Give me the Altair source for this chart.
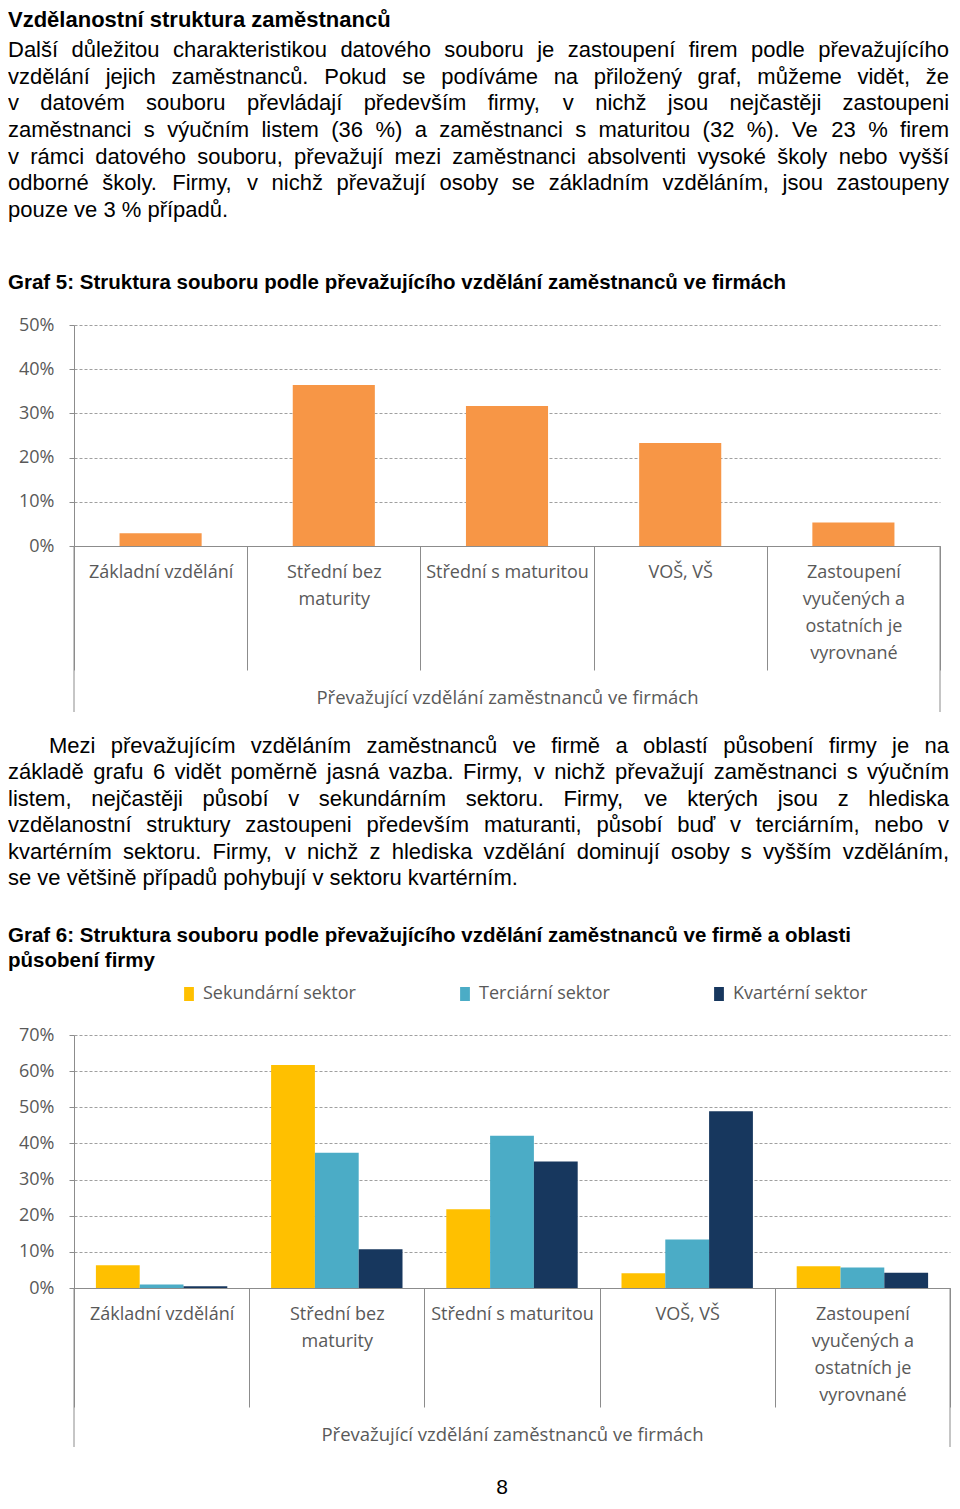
import altair as alt
import pandas as pd

# ---------------- text content ----------------
heading = "Vzdělanostní struktura zaměstnanců"
paragraph1 = [
    "Další důležitou charakteristikou datového souboru je zastoupení firem podle převažujícího",
    "vzdělání jejich zaměstnanců. Pokud se podíváme na přiložený graf, můžeme vidět, že",
    "v datovém souboru převládají především firmy, v nichž jsou nejčastěji zastoupeni",
    "zaměstnanci s výučním listem (36 %) a zaměstnanci s maturitou (32 %). Ve 23 % firem",
    "v rámci datového souboru, převažují mezi zaměstnanci absolventi vysoké školy nebo vyšší",
    "odborné školy. Firmy, v nichž převažují osoby se základním vzděláním, jsou zastoupeny",
    "pouze ve 3 % případů.",
]
graf5_title = "Graf 5: Struktura souboru podle převažujícího vzdělání zaměstnanců ve firmách"
paragraph2 = [
    "Mezi převažujícím vzděláním zaměstnanců ve firmě a oblastí působení firmy je na",
    "základě grafu 6 vidět poměrně jasná vazba. Firmy, v nichž převažují zaměstnanci s výučním",
    "listem, nejčastěji působí v sekundárním sektoru. Firmy, ve kterých jsou z hlediska",
    "vzdělanostní struktury zastoupeni především maturanti, působí buď v terciárním, nebo v",
    "kvartérním sektoru. Firmy, v nichž z hlediska vzdělání dominují osoby s vyšším vzděláním,",
    "se ve většině případů pohybují v sektoru kvartérním.",
]
graf6_title = [
    "Graf 6: Struktura souboru podle převažujícího vzdělání zaměstnanců ve firmě a oblasti",
    "působení firmy",
]
page_number = "8"

# ---------------- chart data ----------------
categories = [
    "Základní vzdělání",
    "Střední bez|maturity",
    "Střední s maturitou",
    "VOŠ, VŠ",
    "Zastoupení|vyučených a|ostatních je|vyrovnané",
]
x_title = "Převažující vzdělání zaměstnanců ve firmách"
total_share = [0.029, 0.364, 0.317, 0.233, 0.053]
y5_ticks = [0, 0.1, 0.2, 0.3, 0.4, 0.5]

sectors = ["Sekundární sektor", "Terciární sektor", "Kvartérní sektor"]
secondary = [0.063, 0.617, 0.218, 0.041, 0.060]
tertiary = [0.010, 0.374, 0.421, 0.134, 0.057]
quaternary = [0.005, 0.107, 0.350, 0.489, 0.042]
y6_ticks = [0, 0.1, 0.2, 0.3, 0.4, 0.5, 0.6, 0.7]

# ---------------- styles ----------------
BODY_FONT = "Liberation Sans"
CHART_FONT = "Open Sans"
LABEL = "#595959"
LINE = "#8c8c8c"
GRID = "#a0a0a0"
ORANGE = "#F79646"
SECTOR_COLORS = ["#FFC000", "#4BACC6", "#17375E"]
ORIGIN = 66          # left extent (axis / text) before the plot origin
TEXT_X = -66
BODY_SIZE = 22
TITLE_SIZE = 20.5
CHART_SIZE = 18
TEXT_W = 866
W5, H5 = 866, 221
W6, H6 = 876, 253

# page-x -> local-x mapping for justified text (plot origin sits at page x = 74)
PAGE_LEFT, PAGE_RIGHT, PAGE_INDENT = 8, 949, 49
page_x = alt.Scale(domain=[0, 960], range=[-74, 886])

# Liberation Sans (Arial-metric) advance widths, 1/1000 em
_W = {" ": 278, ",": 278, ".": 278, "(": 333, ")": 333, "%": 889, ":": 278, "-": 333}
for ch in "0123456789":
    _W[ch] = 556
for ch, w in zip("abcdefghijklmnopqrstuvwxyz",
                 [556, 556, 500, 556, 556, 278, 556, 556, 222, 222, 500, 222, 833,
                  556, 556, 556, 556, 333, 500, 278, 556, 500, 722, 500, 500, 500]):
    _W[ch] = w
for ch, w in zip("ABCDEFGHIJKLMNOPQRSTUVWXYZ",
                 [667, 667, 722, 722, 667, 611, 778, 722, 278, 500, 667, 556, 833,
                  722, 778, 667, 778, 722, 667, 611, 722, 667, 944, 667, 667, 611]):
    _W[ch] = w
_W.update({"á": 556, "é": 556, "í": 278, "ó": 556, "ú": 556, "ý": 500, "ů": 556,
           "č": 500, "ď": 615, "ě": 556, "ň": 556, "ř": 333, "š": 500, "ť": 357,
           "ž": 500, "Š": 667, "Ž": 611, "Č": 722, "Ř": 722})


def word_width(word, size):
    return sum(_W.get(ch, 556) for ch in word) * size / 1000.0


def justified_words(lines, size, indent_first=False):
    rows = []
    for r, line in enumerate(lines):
        words = line.split(" ")
        left = PAGE_INDENT if (indent_first and r == 0) else PAGE_LEFT
        widths = [word_width(w, size) for w in words]
        last = r == len(lines) - 1
        if last or len(words) < 2:
            gap = word_width(" ", size)
        else:
            gap = (PAGE_RIGHT - left - sum(widths)) / (len(words) - 1)
        x = left
        for w, wd in zip(words, widths):
            rows.append({"row": r, "word": w, "px": x})
            x += wd + gap
    return pd.DataFrame(rows)


def paragraph_layer(lines, y0, y1, indent_first=False):
    df = justified_words(lines, BODY_SIZE, indent_first)
    return alt.Chart(df).mark_text(
        align="left", baseline="middle", font=BODY_FONT, fontSize=BODY_SIZE, color="black",
    ).encode(
        x=alt.X("px:Q", scale=page_x, axis=None),
        y=alt.Y("row:Q", scale=alt.Scale(domain=[0, len(lines) - 1], range=[y0, y1]), axis=None),
        text="word:N",
    )


def bold_layer(lines, y0, y1, size):
    df = pd.DataFrame({"row": list(range(len(lines))), "line": lines})
    if len(lines) > 1:
        yenc = alt.Y("row:Q", scale=alt.Scale(domain=[0, len(lines) - 1], range=[y0, y1]), axis=None)
    else:
        yenc = alt.value(y0)
    return alt.Chart(df).mark_text(
        align="left", baseline="middle", font=BODY_FONT, fontSize=size,
        fontWeight="bold", color="black",
    ).encode(x=alt.value(TEXT_X), y=yenc, text="line:N")


# ---------------- section 1: heading + paragraph + graf 5 title ----------------
s1 = alt.layer(
    bold_layer([heading], 12, 12, 22),
    paragraph_layer(paragraph1, 42.3, 201.7),
    bold_layer([graf5_title], 275, 275, TITLE_SIZE),
).resolve_scale(y="independent", x="independent").properties(width=TEXT_W, height=308)


def y_axis(ticks):
    return alt.Axis(
        values=ticks, format=".0%", title=None, grid=True, gridDash=[3, 2],
        gridColor=GRID, gridWidth=1, domainColor=LINE, tickColor=LINE, tickSize=5,
        labelPadding=15, labelFont=CHART_FONT, labelFontSize=CHART_SIZE, labelColor=LABEL,
        minExtent=ORIGIN, maxExtent=ORIGIN,
    )


def x_axis(tick_size, title_y):
    return alt.Axis(
        title=x_title, labelExpr="split(datum.label, '|')", labelAngle=0,
        labelFont=CHART_FONT, labelFontSize=CHART_SIZE, labelColor=LABEL, labelLineHeight=27,
        labelBaseline="top", labelLimit=400, labelOverlap=False,
        tickBand="extent", tickSize=tick_size, tickColor=LINE, domainColor=LINE,
        labelPadding=-tick_size + 17,
        titleFont=CHART_FONT, titleFontSize=18.5, titleFontWeight="normal",
        titleColor=LABEL, titleBaseline="middle", titleY=title_y,
    )


def frame_rules(df, w, h, length):
    left = alt.Chart(df.head(1)).mark_rule(color=LINE).encode(
        x=alt.value(0), y=alt.value(h), y2=alt.value(h + length))
    right = alt.Chart(df.head(1)).mark_rule(color=LINE).encode(
        x=alt.value(w), y=alt.value(h), y2=alt.value(h + length))
    return left, right


# ---------------- chart 5 ----------------
df5 = pd.DataFrame({"category": categories, "share": total_share})
bars5 = alt.Chart(df5).mark_bar(color=ORANGE, width=alt.RelativeBandSize(0.474)).encode(
    x=alt.X("category:N", sort=categories,
            scale=alt.Scale(paddingInner=0, paddingOuter=0),
            axis=x_axis(124, 151)),
    y=alt.Y("share:Q", scale=alt.Scale(domain=[0, 0.5]), axis=y_axis(y5_ticks)),
)
l5, r5 = frame_rules(df5, W5, H5, 166)
c5 = alt.layer(bars5, l5, r5).properties(width=W5, height=H5)

# ---------------- section 3: paragraph 2 + graf 6 title ----------------
s3 = alt.layer(
    paragraph_layer(paragraph2, 33, 165, indent_first=True),
    bold_layer(graf6_title, 223, 248, TITLE_SIZE),
).resolve_scale(y="independent", x="independent").properties(width=TEXT_W, height=272)

# ---------------- chart 6 ----------------
rows = []
for i, c in enumerate(categories):
    for s, vals in zip(sectors, [secondary, tertiary, quaternary]):
        rows.append({"category": c, "sector": s, "share": vals[i]})
df6 = pd.DataFrame(rows)
bars6 = alt.Chart(df6).mark_bar().encode(
    x=alt.X("category:N", sort=categories,
            scale=alt.Scale(paddingInner=0, paddingOuter=0),
            axis=x_axis(119, 146)),
    xOffset=alt.XOffset("sector:N", sort=sectors,
                        scale=alt.Scale(paddingInner=0, paddingOuter=0.5)),
    y=alt.Y("share:Q", scale=alt.Scale(domain=[0, 0.7]), axis=y_axis(y6_ticks)),
    color=alt.Color("sector:N", sort=sectors,
                    scale=alt.Scale(domain=sectors, range=SECTOR_COLORS),
                    legend=alt.Legend(
                        title=None, orient="none", legendX=106, legendY=-50,
                        direction="horizontal", columnPadding=100,
                        symbolType="M-0.7,-1H0.7V1H-0.7Z", symbolSize=196,
                        symbolStrokeWidth=0,
                        labelFont=CHART_FONT, labelFontSize=CHART_SIZE, labelColor=LABEL,
                        labelOffset=5)),
)
l6, r6 = frame_rules(df6, W6, H6, 159)
c6 = alt.layer(bars6, l6, r6).properties(width=W6, height=H6)

# ---------------- section 5: page number ----------------
s5 = alt.Chart(pd.DataFrame({"line": [page_number]})).mark_text(
    align="center", baseline="middle", font=BODY_FONT, fontSize=21, color="black",
).encode(x=alt.value(428), y=alt.value(40), text="line:N").properties(width=TEXT_W, height=48)

chart = alt.vconcat(s1, c5, s3, c6, s5, spacing=0).properties(
    padding=0, background="white"
).resolve_legend(color="independent").configure_view(stroke=None)

chart.save("out.html", embed_options={"renderer": "svg", "actions": False})
